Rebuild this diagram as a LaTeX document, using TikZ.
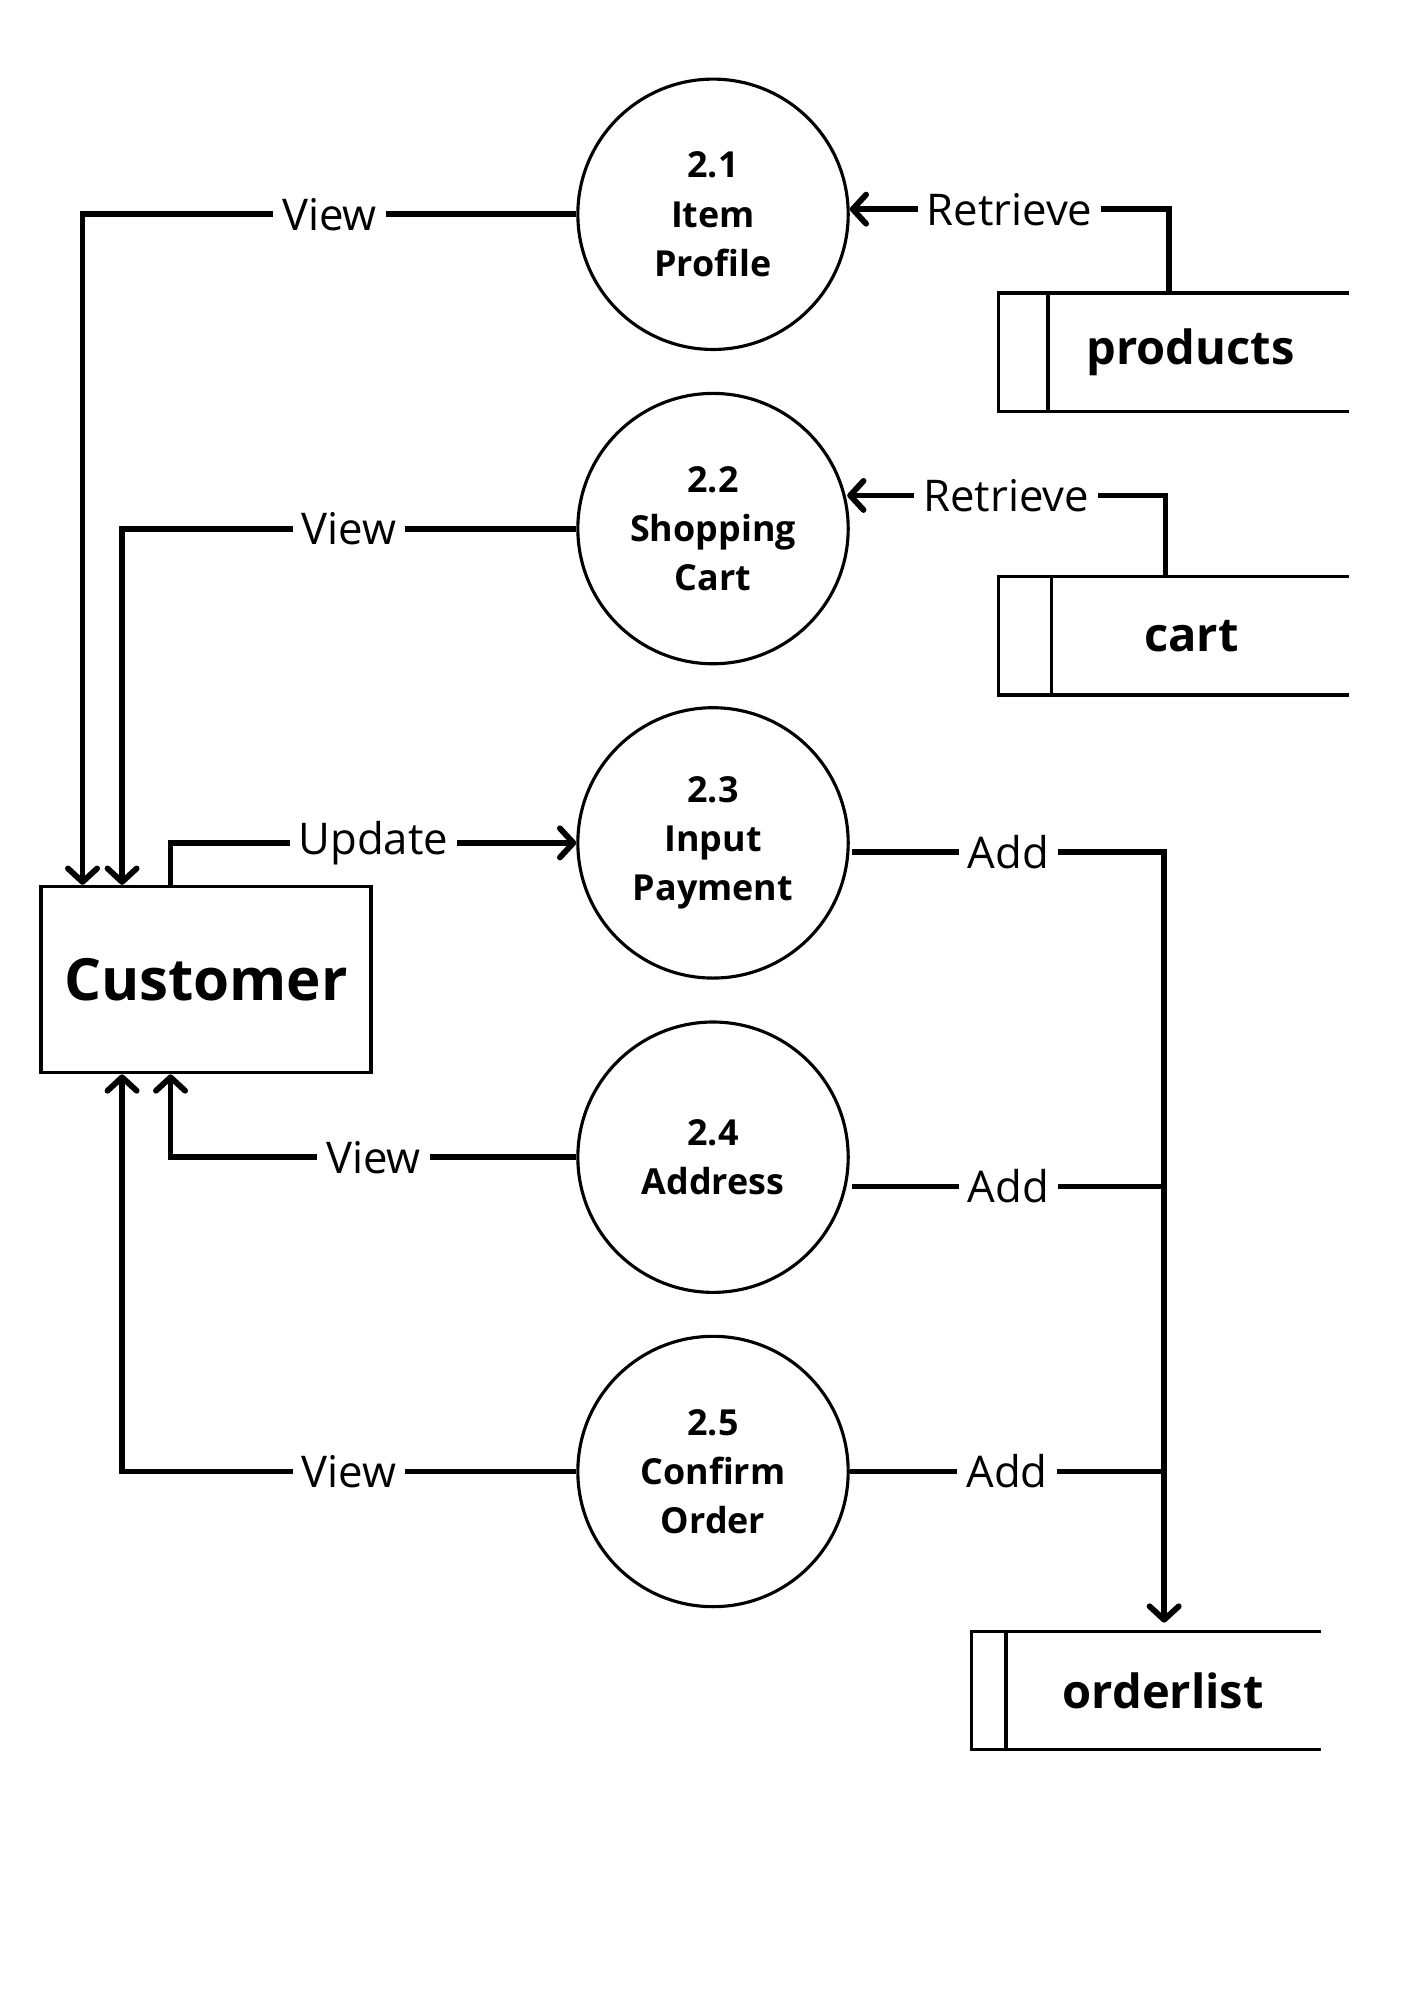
\documentclass[tikz,border=0pt]{standalone}
\usepackage{fontspec}
\setmainfont{Open Sans}
\usetikzlibrary{arrows.meta,positioning,calc}

\begin{document}
\begin{tikzpicture}[
    x=0.02cm, y=-0.02cm,
    every node/.style={align=center},
    process/.style={draw, circle, line width=1.4pt, minimum size=4.24cm, inner sep=0pt, font=\bfseries\fontsize{16}{22}\selectfont},
    entity/.style={draw, line width=1.5pt, minimum width=5.18cm, minimum height=2.92cm, font=\bfseries\fontsize{26}{30}\selectfont},
    store/.style={minimum width=4.7cm, minimum height=1.84cm, inner sep=0pt, font=\bfseries\fontsize{21}{25}\selectfont},
    flow/.style={line width=2.6pt},
    arrow/.style={flow, -{Straight Barb[length=6pt, width=13pt, round]}},
    lbl/.style={fill=white, inner xsep=4pt, inner ysep=0pt, font=\fontsize{19.5}{22}\selectfont}
]
    \useasboundingbox (0,0) rectangle (1109,1568);

    % processes
    \node[process] (p1) at (559,168) {2.1\\Item\\Profile};
    \node[process, below=0.64cm of p1] (p2) {2.2\\Shopping\\Cart};
    \node[process, below=0.64cm of p2] (p3) {2.3\\Input\\Payment};
    \node[process, below=0.64cm of p3] (p4) {2.4\\Address};
    \node[process, below=0.64cm of p4] (p5) {2.5\\Confirm\\Order};

    \node[entity] (customer) at (161.5,768) {Customer};

    % data stores
    \node[store] (products) at (939.5,276) {products\kern7pt};
    \node[store, minimum width=4.64cm] (cart) at (941,498.5) {cart\kern8pt};
    \node[store, minimum width=4.92cm] (orderlist) at (912,1325.5) {orderlist};
    \foreach \s/\t in {products/39, cart/42, orderlist/27}
        \draw[line width=1.4pt] (\s.north east) -- ($(\s.north west)+(-\t,0)$) |- (\s.south east)
            (\s.north west) -- (\s.south west);

    % flows to and from the customer
    \draw[arrow] (p1.west) -| node[lbl, pos=0.25] {View} ($(customer.north west)+(34,0)$);
    \draw[arrow] (p2.west) -| node[lbl, pos=0.25] {View} ($(customer.north west)+(65,0)$);
    \draw[arrow] ($(customer.north west)+(103,0)$) |- node[lbl, pos=0.75] {Update} (p3.west);
    \draw[arrow] (p4.west) -| node[lbl, pos=0.25] {View} ($(customer.south west)+(103,0)$);
    \draw[arrow] (p5.west) -| node[lbl, pos=0.25] {View} ($(customer.south west)+(65,0)$);

    % reads from the stores
    \draw[arrow] ($(products.north west)+(95,0)$) |- node[lbl, pos=0.75] {Retrieve} ($(p1.east)+(0,-4)$);
    \draw[arrow] ($(cart.north west)+(89,0)$) |- node[lbl, pos=0.75] {Retrieve} ($(p2.east)+(-2,-26)$);

    % writes to the order list
    \coordinate (bus) at ($(orderlist.north west)+(124,-7)$);
    \draw[arrow] ($(p3.east)+(2,7)$) -| node[lbl, pos=0.25] {Add} (bus);
    \draw[flow] ($(p4.east)+(2,23)$) coordinate (a4) -- node[lbl] {Add} (a4 -| bus);
    \draw[flow] (p5.east) -- node[lbl] {Add} (p5.east -| bus);
\end{tikzpicture}
\end{document}
